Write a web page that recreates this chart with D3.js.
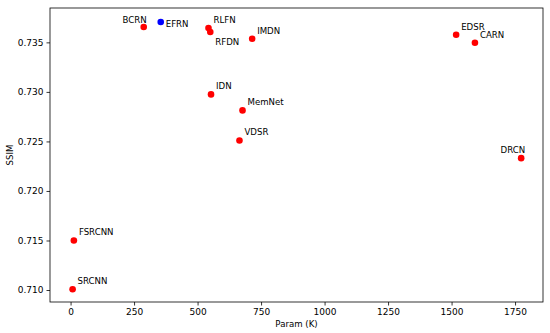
<!DOCTYPE html>
<html>
<head>
<meta charset="utf-8">
<script src="https://cdn.jsdelivr.net/npm/d3@7"></script>
<style>
  body { margin: 0; background: #fff; }
  text { font-family: "DejaVu Sans", sans-serif; fill: #000; }
</style>
</head>
<body>
<svg id="chart" width="550" height="333"></svg>
<script>
// model names, parameter counts (K) and SSIM values
var models = ['SRCNN', 'FSRCNN', 'VDSR', 'DRCN', 'MemNet', 'IDN', 'CARN', 'EDSR', 'IMDN', 'RFDN', 'RLFN', 'BCRN', 'EFRN'];
var params = [8, 13, 665, 1774, 677, 553, 1592, 1518, 715, 550, 543, 288, 355];
var ssim = [0.71007, 0.7150, 0.72510, 0.72331, 0.72813, 0.72975, 0.73496, 0.73577, 0.73536, 0.73604, 0.73644, 0.73655, 0.73705];
var highlight = ['EFRN'];
var xTicks = [0, 250, 500, 750, 1000, 1250, 1500, 1750];
var yTicks = [0.710, 0.715, 0.720, 0.725, 0.730, 0.735];

// label placement relative to the point: [dx, dy, anchor]
var labelOffsets = {
  BCRN: [3, -4, 'end'],
  RFDN: [5, 13, 'start'],
  DRCN: [4, -5, 'end']
};

var margin = {top: 8, right: 7, bottom: 31, left: 50};
var width = 550 - margin.left - margin.right;
var height = 333 - margin.top - margin.bottom;

var svg = d3.select('#chart');
var g = svg.append('g').attr('transform', 'translate(' + margin.left + ',' + margin.top + ')');

var x = d3.scaleLinear().domain([-81, 1860]).range([0, width]);
var y = d3.scaleLinear().domain([0.70879, 0.73847]).range([height, 0]);

var points = models.map(function(name, i) {
  return {name: name, param: params[i], ssim: ssim[i]};
});

var xAxis = g.append('g')
  .attr('transform', 'translate(0,' + height + ')')
  .call(d3.axisBottom(x).tickValues(xTicks).tickSize(3.5).tickPadding(3).tickFormat(d3.format('d')));
var yAxis = g.append('g')
  .call(d3.axisLeft(y).tickValues(yTicks).tickSize(3.5).tickPadding(3).tickFormat(d3.format('.3f')));

[xAxis, yAxis].forEach(function(ax) {
  ax.select('.domain').remove();
  ax.selectAll('line').attr('stroke', '#000').attr('stroke-width', 0.8);
  ax.selectAll('text').style('font-size', '9px').style('font-family', '"DejaVu Sans", sans-serif').attr('fill', '#000');
});

g.append('rect')
  .attr('width', width)
  .attr('height', height)
  .attr('fill', 'none')
  .attr('stroke', '#000')
  .attr('stroke-width', 0.8);

g.selectAll('.dot').data(points).enter().append('circle')
  .attr('class', 'dot')
  .attr('cx', function(d) { return x(d.param); })
  .attr('cy', function(d) { return y(d.ssim); })
  .attr('r', 3.3)
  .attr('fill', function(d) { return highlight.indexOf(d.name) >= 0 ? '#0000ff' : '#ff0000'; });

g.selectAll('.lbl').data(points).enter().append('text')
  .attr('class', 'lbl')
  .attr('x', function(d) { return x(d.param) + getOffset(d)[0]; })
  .attr('y', function(d) { return y(d.ssim) + getOffset(d)[1]; })
  .attr('text-anchor', function(d) { return getOffset(d)[2]; })
  .style('font-size', '8.6px')
  .text(function(d) { return d.name; });

function getOffset(d) {
  if (labelOffsets[d.name]) {
    return labelOffsets[d.name];
  }
  if (highlight.indexOf(d.name) >= 0) {
    return [5, 5, 'start'];
  }
  return [5, -5, 'start'];
}

svg.append('text')
  .attr('x', margin.left + width / 2)
  .attr('y', 327)
  .attr('text-anchor', 'middle')
  .style('font-size', '8.6px')
  .text('Param (K)');

svg.append('text')
  .attr('transform', 'translate(13,' + (margin.top + height / 2) + ') rotate(-90)')
  .attr('text-anchor', 'middle')
  .style('font-size', '8.6px')
  .text('SSIM');
</script>
</body>
</html>
